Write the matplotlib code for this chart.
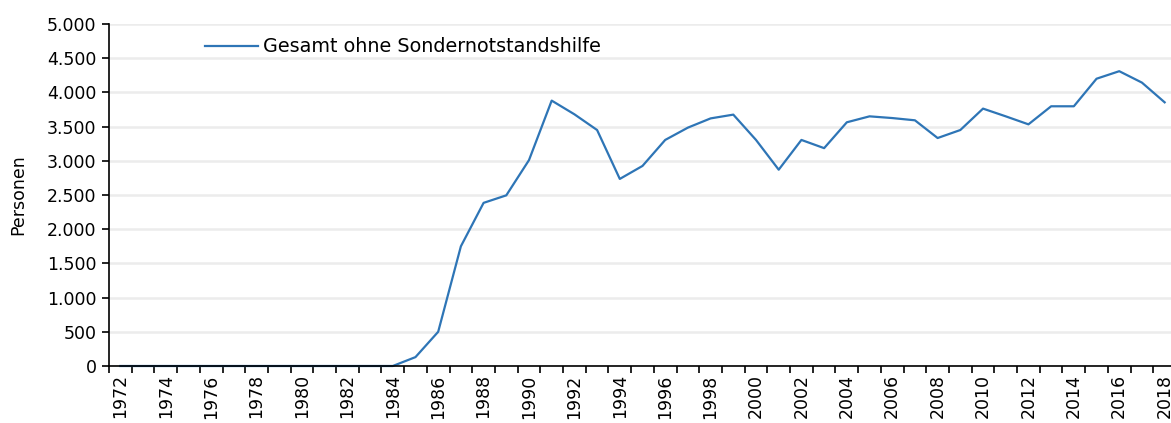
import matplotlib
matplotlib.use("Agg")
import matplotlib.pyplot as plt
from matplotlib.ticker import FuncFormatter, FixedLocator

years = list(range(1972, 2019))
values = [0]*13 + [130, 500, 1750, 2385, 2495, 3010, 3880, 3680, 3450, 2735, 2925,
                   3305, 3485, 3620, 3675, 3305, 2870, 3305, 3185, 3563, 3650, 3625,
                   3592, 3333, 3450, 3763, 3650, 3533, 3797, 3797, 4200, 4310, 4143, 3855]
series_name = "Gesamt ohne Sondernotstandshilfe"
y_label = "Personen"

plt.rcParams['font.family'] = ['DejaVu Sans']
fig = plt.figure(figsize=(11.71, 4.23), dpi=100)
ax = fig.add_axes([109/1171, 1-366/423, (1176-109)/1171, (366-24)/423])

x = list(range(len(years)))
ax.plot(x, values, color='#2E75B6', lw=1.6, label=series_name, clip_on=False)

ax.set_xlim(-0.5, len(years)-0.5)
ax.set_ylim(0, 5000)
ax.set_yticks(range(0, 5001, 500))
ax.yaxis.set_major_formatter(FuncFormatter(lambda v, p: f"{int(v):,}".replace(",", ".")))
ax.grid(axis='y', color='#ececec', lw=1.8)
ax.set_axisbelow(True)

ax.set_xticks(x[::2])
ax.set_xticklabels([str(y) for y in years[::2]], rotation=90)
ax.xaxis.set_minor_locator(FixedLocator([i - 0.5 for i in range(len(years)+1)]))
ax.tick_params(axis='x', which='major', length=0, pad=6, labelsize=12.5)
ax.tick_params(axis='x', which='minor', length=5, width=1.2, direction='out')
ax.tick_params(axis='y', length=5, width=1.2, labelsize=12.5, pad=4)

for s in ['top', 'right']:
    ax.spines[s].set_visible(False)
for s in ['left', 'bottom']:
    ax.spines[s].set_linewidth(1.2)

ax.set_ylabel(y_label, fontsize=12.5, labelpad=14)

fig.legend(loc='center left', bbox_to_anchor=(205/1171, 1-47/423), frameon=False,
           fontsize=13.8, handlelength=2.75, handletextpad=0.3,
           borderpad=0, borderaxespad=0)

fig.savefig("out.png", dpi=100)
